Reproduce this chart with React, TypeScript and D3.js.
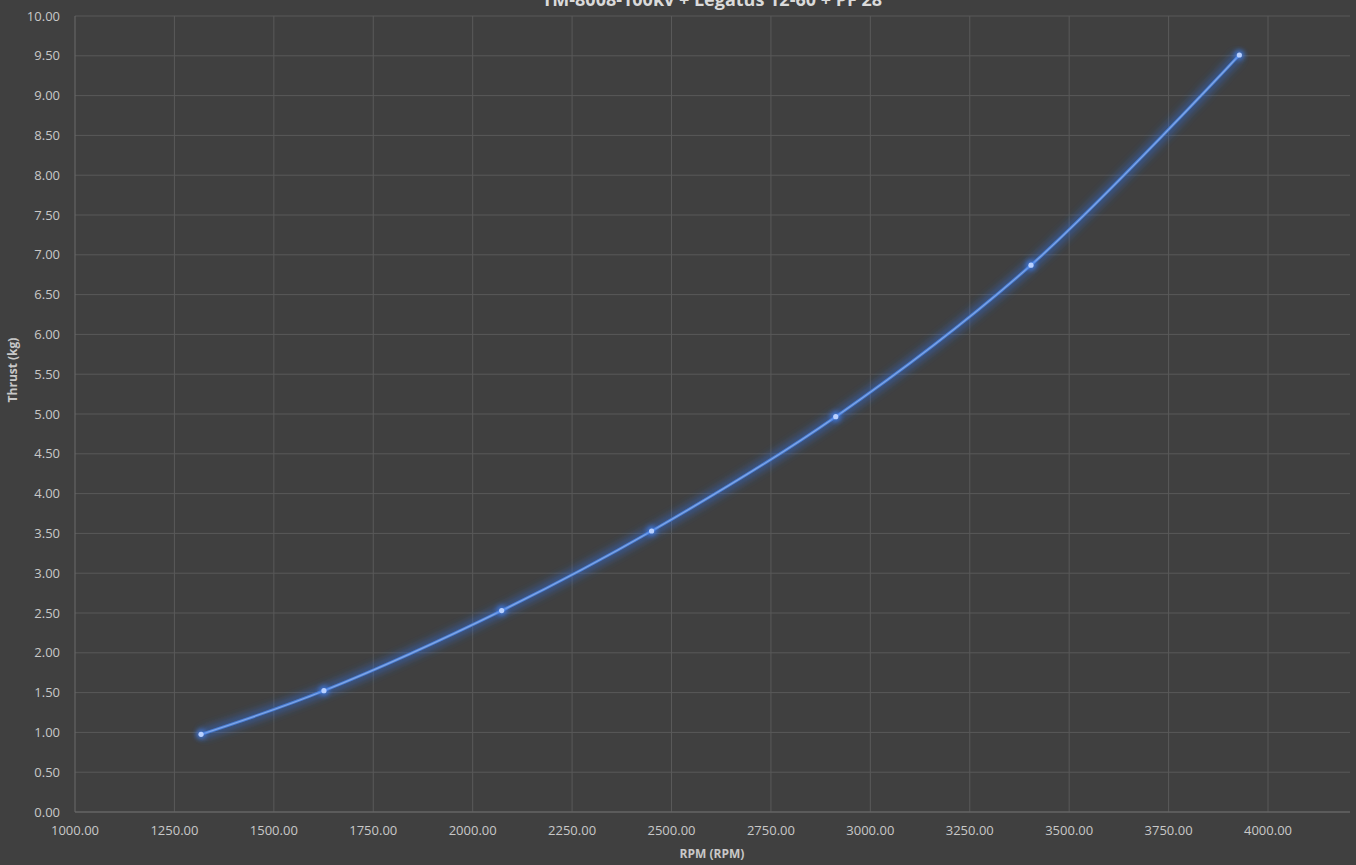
import React from "react";
import * as d3 from "d3";

const title = "TM-8008-100kv + Legatus 12-60 + PF 28";
const xAxisTitle = "RPM (RPM)";
const yAxisTitle = "Thrust (kg)";
const rpm = [1317, 1626, 2073, 2450, 2913, 3404, 3928];
const thrust = [0.976, 1.524, 2.53, 3.53, 4.966, 6.87, 9.51];
const xTicks = [1000, 1250, 1500, 1750, 2000, 2250, 2500, 2750, 3000, 3250, 3500, 3750, 4000];
const yTicks = [0, 0.5, 1, 1.5, 2, 2.5, 3, 3.5, 4, 4.5, 5, 5.5, 6, 6.5, 7, 7.5, 8, 8.5, 9, 9.5, 10];

const W = 1356;
const H = 865;
const left = 75;
const right = 1350;
const top = 16;
const bottom = 812;

export default function App() {
  const x = d3.scaleLinear().domain([1000, 4000]).range([left, 1268]);
  const y = d3.scaleLinear().domain([0, 10]).range([bottom, top]);
  const pts: [number, number][] = rpm.map((r, i) => [x(r), y(thrust[i])]);
  const line = d3.line().curve(d3.curveCatmullRom.alpha(0.5))(pts) || "";
  const font = "'Open Sans', 'Noto Sans', sans-serif";
  return (
    <svg
      width={W}
      height={H}
      style={{ position: "fixed", left: 0, top: 0, background: "#404040" }}
    >
      <defs>
        <filter id="glow" x="-20%" y="-20%" width="140%" height="140%">
          <feGaussianBlur stdDeviation="4" />
        </filter>
        <filter id="glowDot" x="-200%" y="-200%" width="500%" height="500%">
          <feGaussianBlur stdDeviation="2.5" />
        </filter>
      </defs>
      <rect x={0} y={0} width={W} height={H} fill="#404040" />
      {yTicks.map((t) => (
        <line key={"h" + t} x1={left} x2={right} y1={y(t)} y2={y(t)} stroke="#595959" strokeWidth={1} />
      ))}
      {xTicks.slice(1).map((t) => (
        <line key={"v" + t} x1={x(t)} x2={x(t)} y1={top} y2={bottom} stroke="#595959" strokeWidth={1} />
      ))}
      <line x1={left} x2={left} y1={top} y2={bottom} stroke="#6a6a6a" strokeWidth={1} />
      <line x1={left} x2={right} y1={bottom} y2={bottom} stroke="#6a6a6a" strokeWidth={1} />
      {yTicks.map((t) => (
        <text key={"yl" + t} x={60} y={y(t)} dy="0.35em" textAnchor="end" fill="#c8c8c8" fontSize={13} fontFamily={font}>
          {t.toFixed(2)}
        </text>
      ))}
      {xTicks.map((t) => (
        <text key={"xl" + t} x={x(t)} y={835} textAnchor="middle" fill="#c8c8c8" fontSize={13} fontFamily={font}>
          {t.toFixed(2)}
        </text>
      ))}
      <path d={line} fill="none" stroke="#2f6fe0" strokeWidth={9} strokeOpacity={0.55} filter="url(#glow)" />
      <path d={line} fill="none" stroke="#4a7fd6" strokeWidth={3} />
      <path d={line} fill="none" stroke="#8fb0ea" strokeWidth={1.2} strokeOpacity={0.8} />
      {pts.map(([px, py], i) => (
        <g key={"p" + i}>
          <circle cx={px} cy={py} r={5} fill="#3f7ff0" opacity={0.8} filter="url(#glowDot)" />
          <circle cx={px} cy={py} r={2.6} fill="#b8d0ff" />
        </g>
      ))}
      <text x={712} y={6} textAnchor="middle" fill="#dadada" fontSize={18} fontWeight="bold" fontFamily={font}>
        {title}
      </text>
      <text x={712} y={858} textAnchor="middle" fill="#c8c8c8" fontSize={12} fontWeight="bold" fontFamily={font}>
        {xAxisTitle}
      </text>
      <text
        transform={`translate(17, 370) rotate(-90)`}
        textAnchor="middle"
        fill="#c8c8c8"
        fontSize={12}
        fontWeight="bold"
        fontFamily={font}
      >
        {yAxisTitle}
      </text>
    </svg>
  );
}
